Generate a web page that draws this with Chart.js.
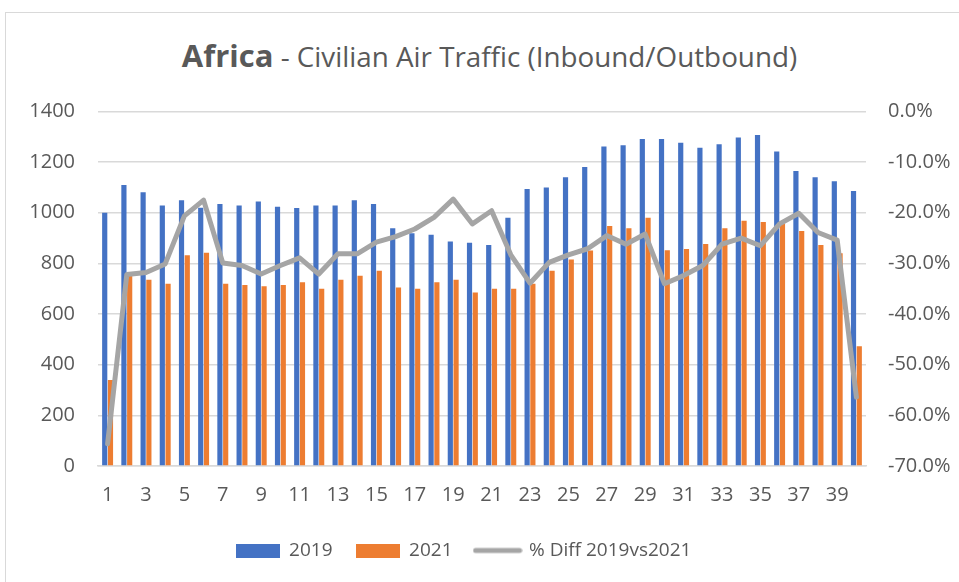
<!DOCTYPE html>
<html>
<head>
<meta charset="utf-8">
<script src="https://cdn.jsdelivr.net/npm/chart.js@4.4.0/dist/chart.umd.min.js"></script>
<style>
  body { margin: 0; background: #fff; }
  #wrap { position: relative; width: 959px; height: 582px; overflow: hidden; }
  #cornice { position: absolute; left: 5px; top: 12px; width: 1000px; height: 700px; border: 1px solid #d9d9d9; }
  #titolo { position: absolute; left: 0; width: 979px; top: 34px; text-align: center; color: #595959;
            font-family: "Open Sans", sans-serif; font-size: 27.8px; white-space: nowrap; }
  #titolo b { font-size: 31px; }
  canvas { position: absolute; left: 0; top: 0; }
</style>
</head>
<body>
<div id="wrap">
  <div id="cornice"></div>
  <div id="titolo"><b>Africa</b> - Civilian Air Traffic (Inbound/Outbound)</div>
  <canvas id="grafico" width="959" height="582"></canvas>
</div>
<script>
// settimane
var settimane = ['1','2','3','4','5','6','7','8','9','10','11','12','13','14','15','16','17','18','19','20',
  '21','22','23','24','25','26','27','28','29','30','31','32','33','34','35','36','37','38','39','40'];

// traffico 2019
var traffico_2019 = [1000,1110,1081,1029,1050,1020,1035,1029,1045,1024,1019,1029,1029,1050,1035,939,919,913,887,882,
  873,980,1094,1100,1140,1181,1262,1267,1291,1291,1277,1257,1271,1297,1307,1242,1165,1140,1125,1086];

// traffico 2021
var traffico_2021 = [340,750,736,720,832,842,720,715,710,715,726,700,736,751,771,705,700,726,736,685,
  700,700,720,771,816,851,948,939,980,852,857,877,939,969,964,958,928,873,840,473];

// differenza percentuale
var diff_perc = [-65.6,-32.2,-31.8,-30.1,-20.6,-17.5,-29.9,-30.4,-32.1,-30.4,-28.9,-32.1,-28.1,-28.1,-25.8,-24.7,-23.2,-20.9,-17.3,-22.2,
  -19.6,-28.3,-33.9,-29.8,-28.3,-27.1,-24.5,-26.2,-24.2,-34.0,-32.4,-30.4,-26.2,-25.0,-26.5,-22.2,-20.1,-23.9,-25.4,-56.4];

var tick_sinistra = [0, 1400, 200];
var tick_destra = [-70, 0, 10];

var blu = '#4472C4';
var arancio = '#ED7D31';
var grigio = '#A5A5A5';
var testo = '#595959';
var font_assi = { family: '"Open Sans", sans-serif', size: 20 };
var font_legenda = { family: '"Open Sans", sans-serif', size: 19 };

// piccole immagini per la legenda
function icona_box(colore) {
  var c = document.createElement('canvas');
  c.width = 44; c.height = 14;
  var ctx = c.getContext('2d');
  ctx.fillStyle = colore;
  ctx.fillRect(0, 0, 44, 14);
  return c;
}
function icona_linea(colore) {
  var c = document.createElement('canvas');
  c.width = 50; c.height = 8;
  var ctx = c.getContext('2d');
  ctx.strokeStyle = colore;
  ctx.lineWidth = 5;
  ctx.lineCap = 'round';
  ctx.beginPath();
  ctx.moveTo(3, 4);
  ctx.lineTo(47, 4);
  ctx.stroke();
  return c;
}
var icone = [icona_box(blu), icona_box(arancio), icona_linea(grigio)];

// sposto la legenda un po' a sinistra come nell'originale
var sposta_legenda = {
  id: 'sposta_legenda',
  afterLayout: function(chart) {
    chart.legend.left -= 16;
    chart.legend.right -= 16;
  }
};

var grafico = new Chart(document.getElementById('grafico'), {
  type: 'bar',
  data: {
    labels: settimane,
    datasets: [{
      label: '2019',
      data: traffico_2019,
      backgroundColor: blu,
      yAxisID: 'y',
      order: 1,
      categoryPercentage: 0.6,
      barPercentage: 0.9
    }, {
      label: '2021',
      data: traffico_2021,
      backgroundColor: arancio,
      yAxisID: 'y',
      order: 1,
      categoryPercentage: 0.6,
      barPercentage: 0.9
    }, {
      type: 'line',
      label: '% Diff 2019vs2021',
      data: diff_perc,
      borderColor: grigio,
      backgroundColor: grigio,
      borderWidth: 5,
      borderCapStyle: 'round',
      borderJoinStyle: 'round',
      pointRadius: 0,
      tension: 0,
      yAxisID: 'y1',
      order: 0
    }]
  },
  options: {
    responsive: false,
    animation: false,
    layout: { padding: { top: 111.5, bottom: 12, left: 0, right: 0 } },
    plugins: {
      title: { display: false },
      tooltip: { enabled: false },
      legend: {
        position: 'bottom',
        labels: {
          usePointStyle: true,
          pointStyleWidth: 44,
          boxHeight: 14,
          padding: 23,
          color: testo,
          font: font_legenda,
          sort: function(a, b) { return a.datasetIndex - b.datasetIndex; },
          generateLabels: function(chart) {
            var voci = Chart.defaults.plugins.legend.labels.generateLabels(chart);
            voci.forEach(function(v) { v.pointStyle = icone[v.datasetIndex]; });
            return voci;
          }
        }
      }
    },
    scales: {
      x: {
        grid: { display: false },
        border: { display: true, color: '#d9d9d9', width: 1.5 },
        ticks: {
          color: testo,
          font: font_assi,
          padding: 9.5,
          autoSkip: false,
          maxRotation: 0,
          callback: function(val, i) { return i % 2 === 0 ? settimane[i] : ''; }
        },
        afterFit: function(scale) { scale.height += 1; }
      },
      y: {
        position: 'left',
        min: tick_sinistra[0],
        max: tick_sinistra[1],
        grid: { color: '#d9d9d9', lineWidth: 1.5, drawTicks: false },
        border: { display: false },
        ticks: {
          stepSize: tick_sinistra[2],
          color: testo,
          font: font_assi,
          padding: 23,
          callback: function(v) { return String(v); }
        },
        afterFit: function(scale) { scale.width = 98; }
      },
      y1: {
        position: 'right',
        min: tick_destra[0],
        max: tick_destra[1],
        grid: { display: false, drawTicks: false },
        border: { display: false },
        ticks: {
          stepSize: tick_destra[2],
          color: testo,
          font: font_assi,
          padding: 22,
          callback: function(v) { return v.toFixed(1) + '%'; }
        },
        afterFit: function(scale) { scale.width = 93; }
      }
    }
  },
  plugins: [sposta_legenda]
});
</script>
</body>
</html>
